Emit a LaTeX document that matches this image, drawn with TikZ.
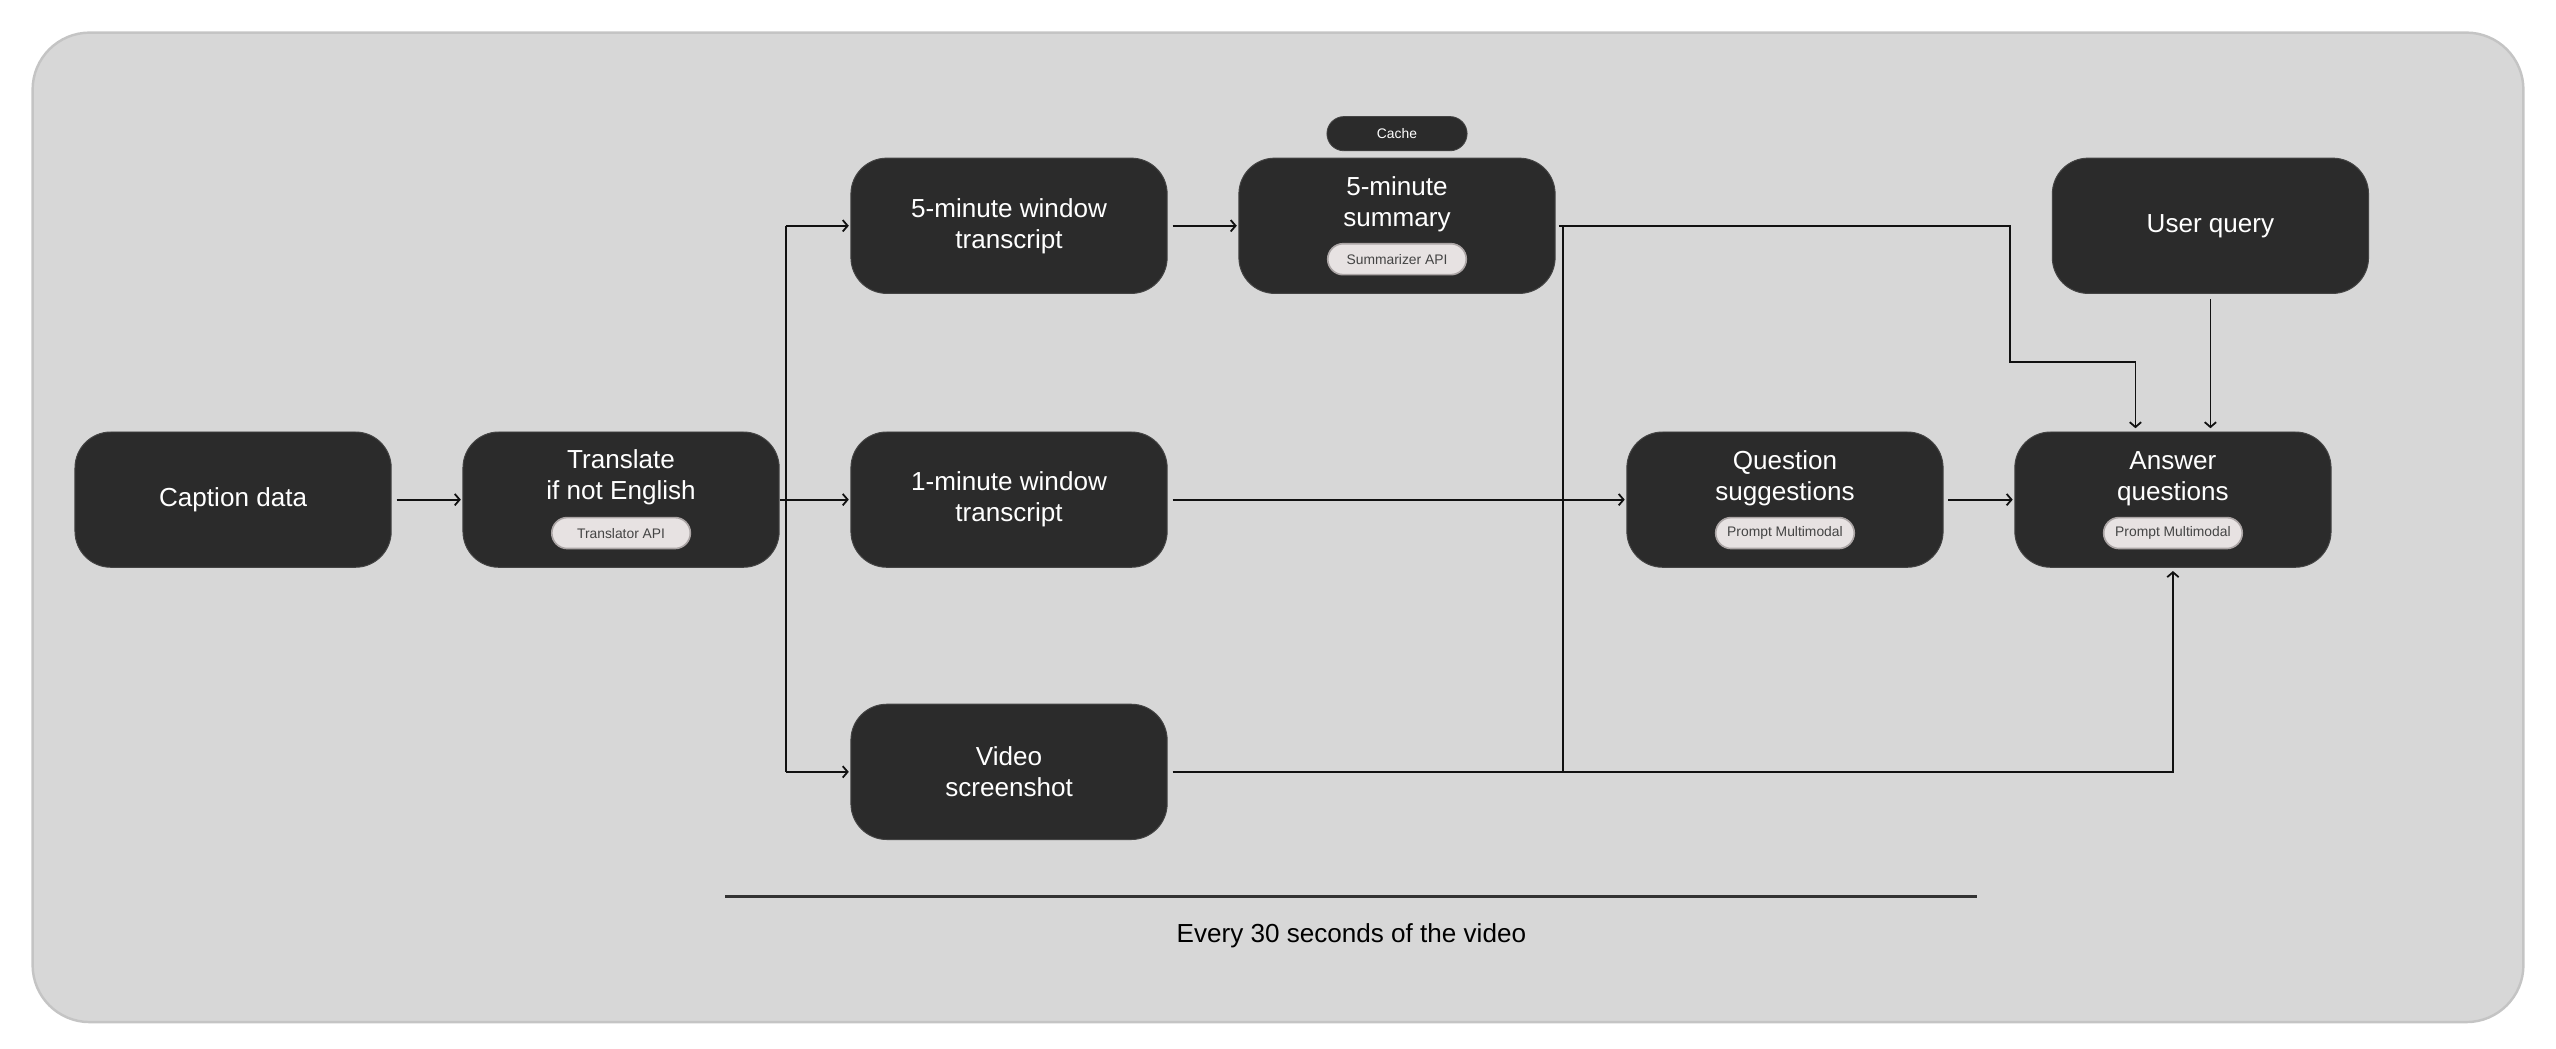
\documentclass[tikz,border=0pt]{standalone}
\usepackage{fontspec}
\setmainfont{Liberation Sans}
\usetikzlibrary{arrows.meta}
\definecolor{boxc}{HTML}{2B2B2B}
\definecolor{boxedge}{HTML}{444444}
\definecolor{panelc}{HTML}{D7D7D7}
\definecolor{paneledge}{HTML}{C4C4C4}
\definecolor{pillin}{HTML}{E7E2E2}
\definecolor{pillmid}{HTML}{CFC9C9}
\definecolor{pillout}{HTML}{ABA5A5}
\definecolor{pilltext}{HTML}{444444}
\definecolor{linec}{HTML}{111111}
\definecolor{sepc}{HTML}{333333}
\tikzset{
  panelbox/.style={rectangle, rounded corners=35pt, fill=panelc, draw=paneledge, line width=1.5pt, minimum width=1528pt, minimum height=607pt, inner sep=0pt},
  bx/.style={rectangle, rounded corners=22pt, fill=boxc, draw=boxedge, line width=0.6pt, minimum width=194pt, minimum height=83pt, inner sep=0pt, text=white, font=\fontsize{16}{19}\selectfont, align=center},
  boxlabel/.style={text=white, font=\fontsize{16}{19}\selectfont, align=center, inner sep=0pt},
  pill/.style={rectangle, rounded corners=9.5pt, fill=pillin, draw=pillout, line width=1pt, minimum width=85pt, minimum height=19pt, inner sep=0pt, text=pilltext, font=\fontsize{8.5}{10}\selectfont,
    append after command={\pgfextra{\draw[pillmid, line width=1pt, rounded corners=8.5pt] ([shift={(1pt,1pt)}]\tikzlastnode.south west) rectangle ([shift={(-1pt,-1pt)}]\tikzlastnode.north east);}}},
  pilltxt/.style={text=pilltext, font=\fontsize{8.5}{10}\selectfont, inner sep=0pt},
  darkpill/.style={rectangle, rounded corners=10.5pt, fill=boxc, draw=boxedge, line width=0.5pt, minimum width=86pt, minimum height=21pt, inner sep=0pt, text=white, font=\fontsize{8.5}{10}\selectfont},
  ln/.style={draw=linec, line width=1.1pt},
  arr/.style={draw=linec, line width=1.1pt, -{Straight Barb[length=3pt,width=7pt]}},
  sep/.style={draw=sepc, line width=1.5pt},
  foottext/.style={text=black, font=\fontsize{16}{19}\selectfont, inner sep=0pt}
}
\begin{document}
\begin{tikzpicture}[x=1pt,y=-1pt]
\useasboundingbox (0,0) rectangle (1568,643.5);
\node[panelbox] (panel) at (784,323.5) {};

% boxes
\node[bx] (cap) at (143,306.5) {Caption data};
\node[bx] (tr) at (381,306.5) {};
\node[boxlabel] (trl) at (381,293) {Translate\\if not English};
\node[pill] (trp) at (381,327) {};
\node[pilltxt] at (trp) {Translator API};

\node[bx] (win5) at (619,138.5) {5-minute window\\transcript};
\node[bx] (win1) at (619,306.5) {1-minute window\\transcript};
\node[bx] (video) at (619,473.5) {Video\\screenshot};

\node[bx] (sum) at (857,138.5) {};
\node[boxlabel] (suml) at (857,125.5) {5-minute\\summary};
\node[pill] (sump) at (857,159) {};
\node[pilltxt] at (sump) {Summarizer API};
\node[darkpill] (cache) at (857,82) {Cache};

\node[bx] (uq) at (1356,138.5) {User query};

\node[bx] (qs) at (1095,306.5) {};
\node[boxlabel] (qsl) at (1095,293.5) {Question\\suggestions};
\node[pill] (qsp) at (1095,327) {};
\node[pilltxt] at (qsp) {Prompt Multimodal};

\node[bx] (ans) at (1333,306.5) {};
\node[boxlabel] (ansl) at (1333,293.5) {Answer\\questions};
\node[pill] (ansp) at (1333,327) {};
\node[pilltxt] at (ansp) {Prompt Multimodal};

% connectors
\draw[arr, shorten <=3pt, shorten >=1pt] (cap.east) -- (tr.west);

\coordinate (trunk) at (482,306.5);
\draw[ln] (tr.east) -- (trunk);
\draw[ln] (trunk |- win5.west) -- (trunk |- video.west);
\draw[arr, shorten >=1pt] (trunk |- win5.west) -- (win5.west);
\draw[arr, shorten >=1pt] (trunk) -- (win1.west);
\draw[arr, shorten >=1pt] (trunk |- video.west) -- (video.west);

\draw[arr, shorten <=3pt, shorten >=1pt] (win5.east) -- (sum.west);

\coordinate (j1) at (1233,222);
\draw[arr, shorten >=2pt] ([xshift=2pt]sum.east) -| (j1) -| ([xshift=-23pt]ans.north);

\coordinate (j2) at (959,138.5);
\draw[ln] (j2) -- (j2 |- video.east);
\draw[arr, shorten <=3pt, shorten >=2pt] (video.east) -| (ans.south);

\draw[arr, shorten <=3pt, shorten >=1pt] (win1.east) -- (qs.west);
\draw[arr, shorten <=3pt, shorten >=1pt] (qs.east) -- (ans.west);
\draw[arr, shorten <=3pt, shorten >=2pt] (uq.south) -- (uq.south |- ans.north);

% footer
\coordinate (sepl) at (445,550);
\coordinate (sepr) at (1213,550);
\draw[sep] (sepl) -- (sepr);
\node[foottext] (foot) at (829,574) {Every 30 seconds of the video};
\end{tikzpicture}
\end{document}
